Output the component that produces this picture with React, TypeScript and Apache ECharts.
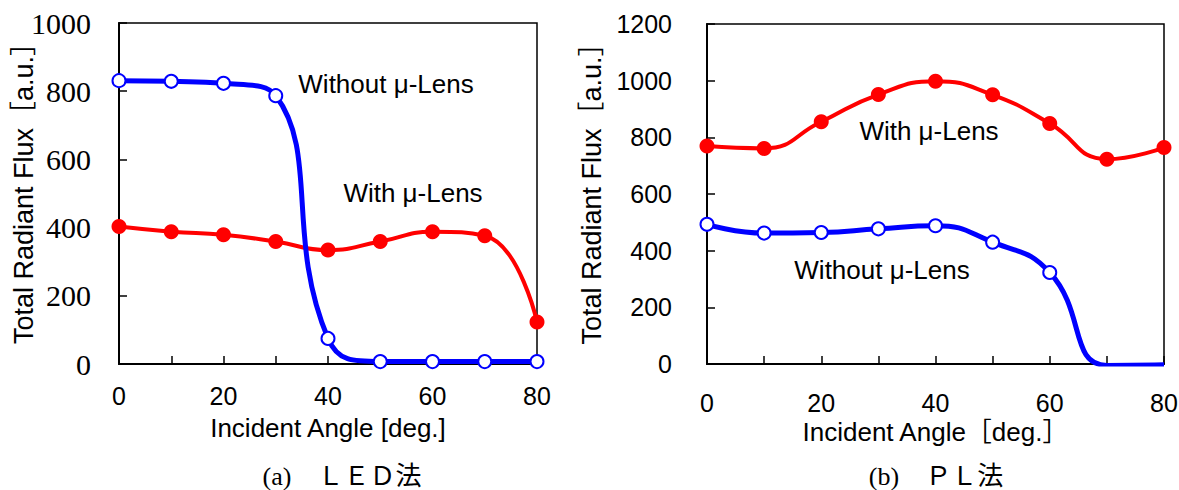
import React, { useEffect, useRef } from "react";
import * as echarts from "echarts";

const angles = [0, 10, 20, 30, 40, 50, 60, 70, 80];
const ledWithLens = [403, 388, 379, 359, 334, 359, 388, 376, 123];
const ledWithoutLens = [831, 829, 823, 787, 75, 7, 7, 7, 7];
const plWithLens = [769, 761, 855, 951, 998, 950, 849, 723, 764];
const plWithoutLens = [493, 462, 464, 477, 488, 430, 323, -5, -3];

const xTicks = [0, 20, 40, 60, 80];
const ledYMax = 1000;
const plYMax = 1200;

const SANS = "'Liberation Sans', Arial, 'Noto Sans CJK JP', sans-serif";
const SERIF = "'Liberation Serif', 'Times New Roman', 'Noto Sans CJK JP', serif";

const pair = (vals: number[]) => angles.map((a, i) => [a, vals[i]]);

export default function App() {
  const ref = useRef<HTMLDivElement>(null);
  useEffect(() => {
    if (!ref.current) return;
    const chart = echarts.init(ref.current, undefined, { renderer: "svg" });

    const xAxisBase = (gridIndex: number, labelMargin: number, nameGap: number, name: string) => ({
      type: "value" as const,
      gridIndex,
      min: 0,
      max: 80,
      interval: 10,
      name,
      nameLocation: "middle" as const,
      nameGap,
      nameMoveOverlap: false,
      nameTextStyle: { fontFamily: SANS, fontSize: 26, color: "#000" },
      axisLine: { show: true, onZero: false, lineStyle: { color: "#000", width: 2 } },
      axisTick: { show: true, inside: true, length: 8, lineStyle: { color: "#000", width: 1.5 } },
      axisLabel: {
        fontFamily: SANS,
        fontSize: 25,
        color: "#000",
        margin: labelMargin,
        showMinLabel: true,
        showMaxLabel: true,
        formatter: (v: number) => (xTicks.includes(v) ? String(v) : ""),
      },
      splitLine: { show: false },
    });

    const yAxisBase = (
      gridIndex: number,
      max: number,
      font: string,
      fontSize: number,
      labelMargin: number,
      nameGap: number
    ) => ({
      type: "value" as const,
      gridIndex,
      min: 0,
      max,
      interval: 200,
      name: "Total Radiant Flux［a.u.］",
      nameLocation: "middle" as const,
      nameRotate: 90,
      nameGap,
      nameMoveOverlap: false,
      nameTextStyle: { fontFamily: SANS, fontSize: 27, color: "#000", padding: [0, 0, 0, 14] },
      axisLine: { show: true, lineStyle: { color: "#000", width: 2 } },
      axisTick: { show: true, inside: true, length: 8, lineStyle: { color: "#000", width: 1.5 } },
      axisLabel: {
        fontFamily: font,
        fontSize,
        color: "#000",
        margin: labelMargin,
        formatter: (v: number) => String(v),
      },
      splitLine: { show: false },
    });

    const redSeries = (xi: number, vals: number[]) => ({
      type: "line" as const,
      xAxisIndex: xi,
      yAxisIndex: xi,
      data: pair(vals),
      smooth: 0.5,
      clip: true,
      symbol: "circle",
      symbolSize: 15,
      lineStyle: { color: "#ff0000", width: 4 },
      itemStyle: { color: "#ff0000", borderColor: "#ff0000", borderWidth: 0 },
      z: 2,
    });
    const blueSeries = (xi: number, vals: number[]) => ({
      type: "line" as const,
      xAxisIndex: xi,
      yAxisIndex: xi,
      data: pair(vals),
      smooth: 0.5,
      clip: true,
      symbol: "circle",
      symbolSize: 13,
      lineStyle: { color: "#0000ff", width: 5 },
      itemStyle: { color: "#ffffff", borderColor: "#0000ff", borderWidth: 2 },
      z: 3,
    });

    const annot = (x: number, y: number, text: string) => ({
      type: "text" as const,
      x,
      y,
      style: {
        text,
        fontFamily: SANS,
        fontSize: 26,
        fill: "#000",
        textAlign: "center",
        textVerticalAlign: "middle",
      },
    });
    const caption = (x: number, y: number, text: string) => ({
      type: "text" as const,
      x,
      y,
      style: {
        text,
        fontFamily: SERIF,
        fontSize: 26,
        fill: "#000",
        textAlign: "center",
        textVerticalAlign: "middle",
      },
    });

    chart.setOption({
      animation: false,
      backgroundColor: "#fff",
      grid: [
        {
          left: 119, top: 23, width: 418, height: 341,
          show: true, borderColor: "#000", borderWidth: 1.5, backgroundColor: "transparent",
          outerBoundsMode: "none", containLabel: false,
        },
        {
          left: 707, top: 24, width: 457, height: 340,
          show: true, borderColor: "#000", borderWidth: 1.5, backgroundColor: "transparent",
          outerBoundsMode: "none", containLabel: false,
        },
      ],
      xAxis: [
        xAxisBase(0, 19, 51, "Incident Angle [deg.]"),
        xAxisBase(1, 26, 55, "Incident Angle［deg.］"),
      ],
      yAxis: [
        yAxisBase(0, ledYMax, SERIF, 30, 28, 82),
        yAxisBase(1, plYMax, SANS, 25, 35, 102),
      ],
      series: [
        redSeries(0, ledWithLens),
        blueSeries(0, ledWithoutLens),
        redSeries(1, plWithLens),
        blueSeries(1, plWithoutLens),
      ],
      graphic: [
        annot(386, 84, "Without μ-Lens"),
        annot(413, 193, "With μ-Lens"),
        annot(929, 131, "With μ-Lens"),
        annot(882, 270, "Without μ-Lens"),
        caption(342, 476, "(a)　ＬＥＤ法"),
        caption(936, 476, "(b)　ＰＬ法"),
      ],
    });
    return () => chart.dispose();
  }, []);
  return (
    <div
      ref={ref}
      style={{ position: "fixed", left: 0, top: 0, width: 1179, height: 490 }}
    />
  );
}
